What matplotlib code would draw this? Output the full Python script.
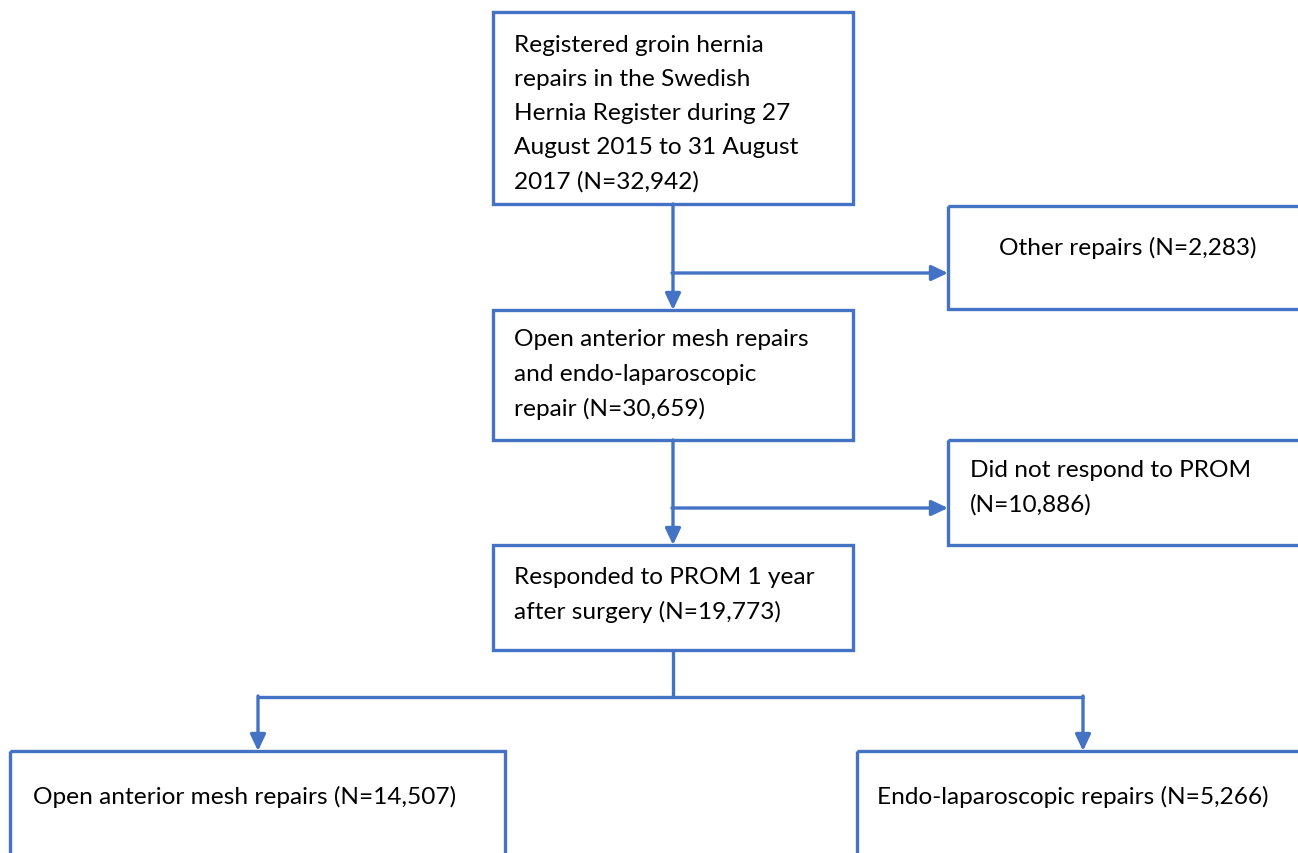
import matplotlib
matplotlib.use("Agg")
import matplotlib.pyplot as plt
from matplotlib.patches import Rectangle, FancyArrowPatch

# ---- content ----
box_texts = [
    "Registered groin hernia\nrepairs in the Swedish\nHernia Register during 27\nAugust 2015 to 31 August\n2017 (N=32,942)",
    "Other repairs (N=2,283)",
    "Open anterior mesh repairs\nand endo-laparoscopic\nrepair (N=30,659)",
    "Did not respond to PROM\n(N=10,886)",
    "Responded to PROM 1 year\nafter surgery (N=19,773)",
    "Open anterior mesh repairs (N=14,507)",
    "Endo-laparoscopic repairs (N=5,266)",
]

BLUE = "#4472C4"
W, H = 1298, 854
fig = plt.figure(figsize=(W / 100, H / 100), dpi=100)
ax = fig.add_axes([0, 0, 1, 1])
ax.set_xlim(0, W)
ax.set_ylim(H, 0)
ax.axis("off")

FONT = ["Lato", "DejaVu Sans"]
FS = 17.6
LW = 2.4

# box geometry: (x0, y0, x1, y1), text x, text y (top line centre), align
boxes = [
    ((493, 13, 853, 205), 514, 45, "left"),
    ((948, 207, 1310, 310), 1128, 248, "center"),
    ((493, 311, 853, 441), 514, 340, "left"),
    ((948, 441, 1310, 546), 970, 471, "left"),
    ((493, 546, 853, 651), 514, 578, "left"),
    ((10, 752, 505, 870), 33, 797, "left"),
    ((857, 752, 1310, 870), 877, 797, "left"),
]
LINE = 34.3

for txt, ((x0, y0, x1, y1), tx, ty, ha) in zip(box_texts, boxes):
    ax.add_patch(Rectangle((x0, y0), x1 - x0, y1 - y0, fill=False,
                           edgecolor=BLUE, linewidth=LW, joinstyle="miter"))
    for i, line in enumerate(txt.split("\n")):
        ax.text(tx, ty + i * LINE, line, ha=ha, va="center", fontsize=FS,
                family=FONT, color="black")


def seg(x0, y0, x1, y1):
    ax.plot([x0, x1], [y0, y1], color=BLUE, lw=LW, solid_capstyle="butt")


def arrow(x0, y0, x1, y1):
    ax.add_patch(FancyArrowPatch((x0, y0), (x1, y1),
                                 arrowstyle="-|>,head_length=0.7,head_width=0.33",
                                 mutation_scale=14, color=BLUE, lw=LW,
                                 shrinkA=0, shrinkB=0))

cx = 673
# box1 -> box2
arrow(cx, 205, cx, 311)
arrow(cx - 1, 274, 948, 274)
# box2 -> box3
arrow(cx, 441, cx, 546)
arrow(cx - 1, 509, 948, 509)
# box3 -> split
seg(cx, 651, cx, 698)
seg(258 - 1, 698, 1083 + 1, 698)
arrow(258, 697, 258, 752)
arrow(1083, 697, 1083, 752)

fig.savefig("out.png", dpi=100, facecolor="white")
